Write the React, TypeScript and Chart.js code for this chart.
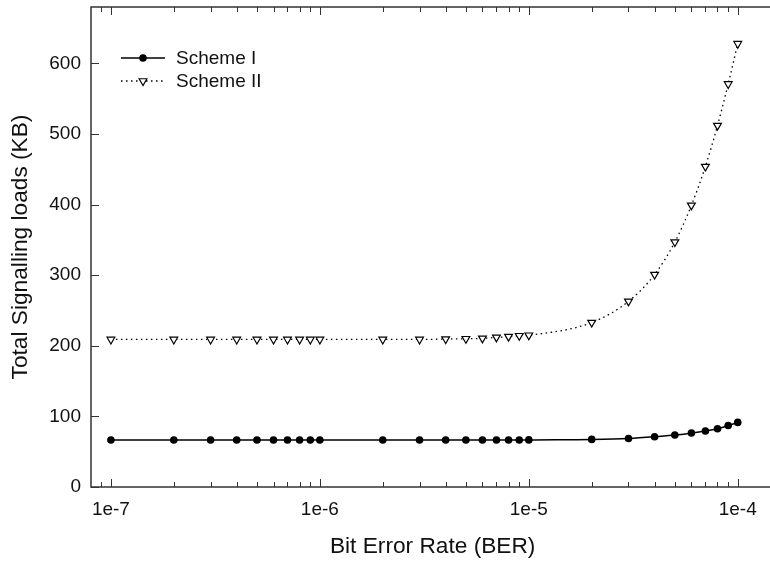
import React, { useEffect, useRef } from "react";
import { Chart, registerables } from "chart.js";

Chart.register(...registerables);

const berValues = [
  1e-7, 2e-7, 3e-7, 4e-7, 5e-7, 6e-7, 7e-7, 8e-7, 9e-7,
  1e-6, 2e-6, 3e-6, 4e-6, 5e-6, 6e-6, 7e-6, 8e-6, 9e-6,
  1e-5, 2e-5, 3e-5, 4e-5, 5e-5, 6e-5, 7e-5, 8e-5, 9e-5,
  1e-4,
];

const schemeI = [
  66.5, 66.5, 66.5, 66.5, 66.5, 66.5, 66.5, 66.5, 66.5,
  66.5, 66.5, 66.5, 66.5, 66.5, 66.5, 66.5, 66.5, 66.5,
  66.7, 67.4, 68.8, 71.2, 73.6, 76.5, 79.3, 82.6, 87.2,
  91.5,
];

const schemeII = [
  209, 209, 209, 209, 209, 209, 209, 209, 209,
  209, 209, 209, 209.6, 210, 210.5, 212, 213, 214.3,
  215, 233, 263, 301, 347, 399, 454, 512, 571,
  628,
];

const seriesNames = ["Scheme I", "Scheme II"];
const xTickLabels = ["1e-7", "1e-6", "1e-5", "1e-4"];
const yTickValues = [0, 100, 200, 300, 400, 500, 600];

const FONT = "'Liberation Sans', Arial, Helvetica, sans-serif";
const INK = "#000";

function drawTri(ctx: CanvasRenderingContext2D, x: number, y: number, r: number) {
  let rad = Math.PI;
  ctx.beginPath();
  ctx.moveTo(x + Math.sin(rad) * r, y - Math.cos(rad) * r);
  rad += (2 * Math.PI) / 3;
  ctx.lineTo(x + Math.sin(rad) * r, y - Math.cos(rad) * r);
  rad += (2 * Math.PI) / 3;
  ctx.lineTo(x + Math.sin(rad) * r, y - Math.cos(rad) * r);
  ctx.closePath();
  ctx.fillStyle = "#fff";
  ctx.fill();
  ctx.lineWidth = 1.2;
  ctx.strokeStyle = INK;
  ctx.stroke();
}

const framePlugin = {
  id: "frame",
  afterDraw(chart: any) {
    const { ctx, chartArea } = chart;
    const { left, right, top, bottom } = chartArea;
    const xs = chart.scales.x;
    const ys = chart.scales.y;
    ctx.save();
    ctx.strokeStyle = "#333";
    ctx.lineWidth = 1;
    for (let d = -8; d <= -4; d++) {
      for (let m = 1; m <= 9; m++) {
        const v = m * Math.pow(10, d);
        const px = xs.getPixelForValue(v);
        if (px < left + 1 || px > right - 1) continue;
        const len = m === 1 ? 8 : 5;
        const x = Math.round(px) + 0.5;
        ctx.beginPath();
        ctx.moveTo(x, bottom);
        ctx.lineTo(x, bottom - len);
        ctx.moveTo(x, top);
        ctx.lineTo(x, top + len);
        ctx.stroke();
      }
    }
    for (const v of yTickValues) {
      const py = Math.round(ys.getPixelForValue(v)) + 0.5;
      ctx.beginPath();
      ctx.moveTo(left, py);
      ctx.lineTo(left + 8, py);
      ctx.stroke();
    }
    ctx.lineWidth = 1.5;
    ctx.strokeRect(left, top, right - left, bottom - top);

    const lx0 = left + 30;
    const lx1 = left + 74;
    const lmx = left + 52;
    const ltx = left + 85;
    const r1 = top + 51;
    const r2 = top + 74;
    ctx.strokeStyle = INK;
    ctx.lineWidth = 1.5;
    ctx.beginPath();
    ctx.moveTo(lx0, r1);
    ctx.lineTo(lx1, r1);
    ctx.stroke();
    ctx.beginPath();
    ctx.arc(lmx, r1, 3.8, 0, Math.PI * 2);
    ctx.fillStyle = INK;
    ctx.fill();

    ctx.lineWidth = 1.3;
    ctx.setLineDash([1.5, 3.5]);
    ctx.beginPath();
    ctx.moveTo(lx0, r2);
    ctx.lineTo(lx1, r2);
    ctx.stroke();
    ctx.setLineDash([]);
    drawTri(ctx, lmx, r2, 4.5);

    ctx.fillStyle = "#111";
    ctx.font = `19px ${FONT}`;
    ctx.textAlign = "left";
    ctx.textBaseline = "middle";
    ctx.fillText(seriesNames[0], ltx, r1 + 1);
    ctx.fillText(seriesNames[1], ltx, r2 + 1);
    ctx.restore();
  },
};

export default function App() {
  const ref = useRef<HTMLCanvasElement | null>(null);

  useEffect(() => {
    if (!ref.current) return;
    const chart = new Chart(ref.current, {
      type: "line",
      data: {
        datasets: [
          {
            label: seriesNames[0],
            data: berValues.map((x, i) => ({ x, y: schemeI[i] })),
            borderColor: INK,
            backgroundColor: INK,
            borderWidth: 1.5,
            pointRadius: 3.8,
            pointBorderWidth: 0,
            pointBackgroundColor: INK,
            pointStyle: "circle",
            cubicInterpolationMode: "monotone",
            fill: false,
          },
          {
            label: seriesNames[1],
            data: berValues.map((x, i) => ({ x, y: schemeII[i] })),
            borderColor: INK,
            borderWidth: 1.3,
            borderDash: [1.5, 3.5],
            pointRadius: 4.5,
            pointBorderWidth: 1.2,
            pointBorderColor: INK,
            pointBackgroundColor: "#fff",
            pointStyle: "triangle",
            rotation: 180,
            cubicInterpolationMode: "monotone",
            fill: false,
          } as any,
        ],
      },
      options: {
        animation: false,
        responsive: false,
        layout: { padding: { top: 7, right: 2, left: 0, bottom: 0 } },
        plugins: {
          legend: { display: false },
          tooltip: { enabled: false },
        },
        scales: {
          x: {
            type: "logarithmic",
            min: 8.03e-8,
            max: 1.496e-4,
            grid: { display: false, drawTicks: false },
            border: { display: false },
            afterFit: (s: any) => {
              s.height = 77;
              s.paddingLeft = 0;
              s.paddingRight = 0;
            },
            afterBuildTicks: (s: any) => {
              s.ticks = xTickLabels.map((t) => ({ value: Number(t) }));
            },
            ticks: {
              autoSkip: false,
              maxRotation: 0,
              minRotation: 0,
              padding: 11,
              color: "#111",
              font: { family: FONT, size: 19 },
              callback: (v: any) => {
                const e = Math.round(Math.log10(Number(v)));
                return `1e${e}`;
              },
            },
            title: {
              display: true,
              text: "Bit Error Rate (BER)",
              color: "#111",
              font: { family: FONT, size: 22.7 },
              padding: { top: 0, bottom: 3.5 },
            },
          },
          y: {
            type: "linear",
            min: 0,
            max: 680,
            grid: { display: false, drawTicks: false },
            border: { display: false },
            afterFit: (s: any) => {
              s.width = 91;
              s.paddingTop = 0;
              s.paddingBottom = 0;
            },
            afterBuildTicks: (s: any) => {
              s.ticks = yTickValues.map((v) => ({ value: v }));
            },
            ticks: {
              padding: 10,
              color: "#111",
              font: { family: FONT, size: 19 },
            },
            title: {
              display: true,
              text: "Total Signalling loads (KB)",
              color: "#111",
              font: { family: FONT, size: 22.7 },
              padding: { top: 7, bottom: 0 },
            },
          },
        },
      } as any,
      plugins: [framePlugin],
    });
    return () => chart.destroy();
  }, []);

  return (
    <div style={{ position: "absolute", left: 0, top: 0, width: 770, height: 564, overflow: "hidden", background: "#fff" }}>
      <canvas ref={ref} width={780} height={564} style={{ display: "block" }} />
    </div>
  );
}
